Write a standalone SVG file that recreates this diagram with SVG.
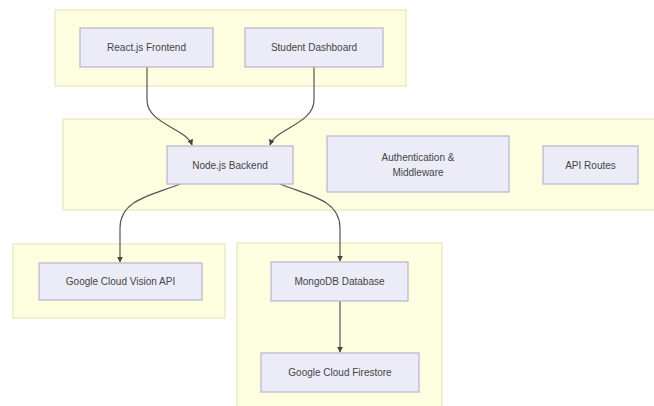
<svg xmlns="http://www.w3.org/2000/svg" width="654" height="406" viewBox="0 0 654 406">
<defs>
<style>
.cl{fill:#fdfde0;stroke:#e6e6b8;stroke-width:1.2}
.nd rect{fill:#ececf8;stroke:#b9b4cc;stroke-width:1.2}
.nd text{font-family:"Liberation Sans",Arial,sans-serif;font-size:10px;fill:#444;text-anchor:middle;dominant-baseline:central}
.ed{fill:none;stroke:#555;stroke-width:1.2}
</style>
<marker id="ah" viewBox="0 0 10 10" refX="9" refY="5" markerWidth="6" markerHeight="6" markerUnits="userSpaceOnUse" orient="auto">
<path d="M0,0 L10,5 L0,10 z" fill="#444"/>
</marker>
</defs>
<rect width="654" height="406" fill="#ffffff"/>
<g id="clusters">
<rect class="cl" x="55" y="10" width="351" height="76"/>
<rect class="cl" x="63" y="119" width="600" height="91"/>
<rect class="cl" x="13" y="244" width="212" height="74"/>
<rect class="cl" x="237" y="243" width="205" height="170"/>
</g>
<g id="connectors">
<path class="ed" d="M147,67 V100 C147,124 186,128 192,145" marker-end="url(#ah)"/>
<path class="ed" d="M314,67 V100 C314,124 276,128 270,145" marker-end="url(#ah)"/>
<path class="ed" d="M180,184 C150,196 120,200 120,228 V262" marker-end="url(#ah)"/>
<path class="ed" d="M280,184 C310,196 340,200 340,228 V261" marker-end="url(#ah)"/>
<path class="ed" d="M340,301 V352" marker-end="url(#ah)"/>
</g>
<g id="react" class="nd"><rect x="80" y="28" width="133" height="39"/><text x="146.5" y="47.5">React.js Frontend</text></g>
<g id="student" class="nd"><rect x="245" y="28" width="138" height="39"/><text x="314" y="47.5">Student Dashboard</text></g>
<g id="node" class="nd"><rect x="167" y="146" width="126" height="38"/><text x="230" y="165">Node.js Backend</text></g>
<g id="auth" class="nd"><rect x="327" y="136" width="182" height="56"/><text x="418" y="157">Authentication &amp;</text><text x="418" y="172">Middleware</text></g>
<g id="api" class="nd"><rect x="543" y="146" width="95" height="38"/><text x="590.5" y="165">API Routes</text></g>
<g id="vision" class="nd"><rect x="39" y="263" width="163" height="37"/><text x="120.5" y="281.5">Google Cloud Vision API</text></g>
<g id="mongo" class="nd"><rect x="271" y="262" width="137" height="39"/><text x="339.5" y="281.5">MongoDB Database</text></g>
<g id="firestore" class="nd"><rect x="261" y="353" width="158" height="39"/><text x="340" y="372.5">Google Cloud Firestore</text></g>
</svg>
